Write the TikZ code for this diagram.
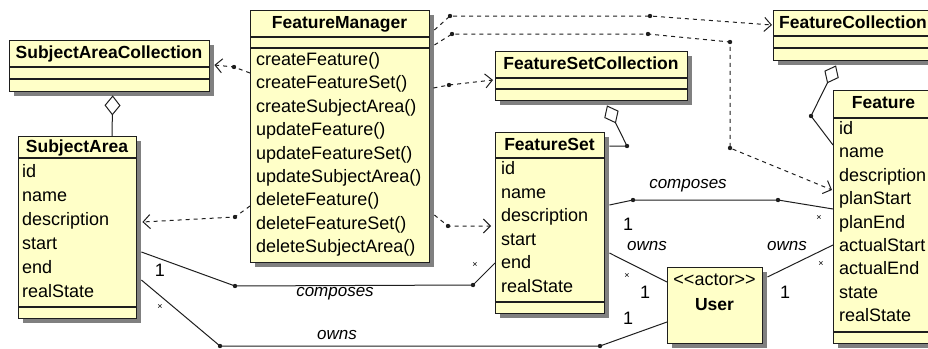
\documentclass[tikz,border=0pt]{standalone}
\usepackage{fontspec}
\setmainfont{Liberation Sans}
\usetikzlibrary{arrows.meta,shadows,calc}
\definecolor{umlfill}{RGB}{255,255,200}
\definecolor{umlline}{RGB}{30,30,30}
\definecolor{umlshadow}{RGB}{128,128,128}
\tikzset{
 cls/.style={draw=umlline, line width=1.4pt, fill=umlfill, rectangle, inner sep=0pt, anchor=north west,
   drop shadow={shadow xshift=4pt, shadow yshift=-4pt, fill=umlshadow, opacity=1}},
 divider/.style={draw=umlline, line width=1.2pt},
 title/.style={font=\fontsize{17.5}{20}\selectfont\bfseries, inner sep=0pt, text height=13pt, text depth=4pt},
 member/.style={font=\fontsize{18}{20}\selectfont, inner sep=0pt, anchor=west, text height=13pt, text depth=4pt},
 stereo/.style={font=\fontsize{18}{20}\selectfont, inner sep=0pt, text height=13pt, text depth=4pt},
 role/.style={font=\fontsize{17}{20}\selectfont\itshape, inner sep=0pt},
 mult/.style={font=\fontsize{18}{20}\selectfont, inner sep=0pt},
 many/.style={font=\fontsize{9}{10}\selectfont, inner sep=0pt},
 dep/.style={draw=umlline, line width=1pt, dash pattern=on 4pt off 4pt, -{Straight Barb[length=7pt,width=14pt]}},
 assoc/.style={draw=umlline, line width=1pt},
 agg/.style={draw=umlline, line width=1pt, {Diamond[open,fill=white,length=20pt,width=16pt]}-},
}
\newcommand\benddot[1]{\fill[umlline] (#1) circle (2.2pt);}
\begin{document}
\begin{tikzpicture}[x=1pt,y=-1pt]
\useasboundingbox (0,0) rectangle (928,348);

% ---------- SubjectAreaCollection
\node[cls, minimum width=200pt, minimum height=51pt] (sac) at (9,40) {};
\draw[divider] ([yshift=-27pt]sac.north west) -- ([yshift=-27pt]sac.north east);
\draw[divider] ([yshift=-39pt]sac.north west) -- ([yshift=-39pt]sac.north east);
\node[title] (sac-t) at (109,54) {SubjectAreaCollection};

% ---------- SubjectArea
\node[cls, minimum width=118pt, minimum height=182pt] (sa) at (18,136) {};
\draw[divider] ([yshift=-22pt]sa.north west) -- ([yshift=-22pt]sa.north east);
\draw[divider] ([yshift=-171pt]sa.north west) -- ([yshift=-171pt]sa.north east);
\node[title] (sa-t) at (77,148) {SubjectArea};
\foreach \t [count=\i] in {id,name,description,start,end,realState}
  \node[member] (sa-\i) at (22,{173+24*(\i-1)}) {\t};

% ---------- FeatureManager
\node[cls, minimum width=179pt, minimum height=252pt] (fm) at (250,10) {};
\draw[divider] ([yshift=-27pt]fm.north west) -- ([yshift=-27pt]fm.north east);
\draw[divider] ([yshift=-38pt]fm.north west) -- ([yshift=-38pt]fm.north east);
\node[title] (fm-t) at (339.5,24) {FeatureManager};
\foreach \t [count=\i] in {createFeature(),createFeatureSet(),createSubjectArea(),updateFeature(),updateFeatureSet(),updateSubjectArea(),deleteFeature(),deleteFeatureSet(),deleteSubjectArea()}
  \node[member] (fm-\i) at (256,{61+23.4*(\i-1)}) {\t};

% ---------- FeatureSetCollection
\node[cls, minimum width=192pt, minimum height=49pt] (fsc) at (495,51) {};
\draw[divider] ([yshift=-27pt]fsc.north west) -- ([yshift=-27pt]fsc.north east);
\draw[divider] ([yshift=-38pt]fsc.north west) -- ([yshift=-38pt]fsc.north east);
\node[title] (fsc-t) at (591,65) {FeatureSetCollection};

% ---------- FeatureSet
\node[cls, minimum width=109pt, minimum height=181pt] (fs) at (495,132) {};
\draw[divider] ([yshift=-26pt]fs.north west) -- ([yshift=-26pt]fs.north east);
\draw[divider] ([yshift=-170pt]fs.north west) -- ([yshift=-170pt]fs.north east);
\node[title] (fs-t) at (549.5,146) {FeatureSet};
\foreach \t [count=\i] in {id,name,description,start,end,realState}
  \node[member] (fs-\i) at (501,{170+23.6*(\i-1)}) {\t};

% ---------- FeatureCollection
\node[cls, minimum width=160pt, minimum height=50pt] (fc) at (773,10) {};
\draw[divider] ([yshift=-26pt]fc.north west) -- ([yshift=-26pt]fc.north east);
\draw[divider] ([yshift=-38pt]fc.north west) -- ([yshift=-38pt]fc.north east);
\node[title] (fc-t) at (853,24) {FeatureCollection};

% ---------- Feature
\node[cls, minimum width=101pt, minimum height=253pt] (feat) at (833,90) {};
\draw[divider] ([yshift=-28pt]feat.north west) -- ([yshift=-28pt]feat.north east);
\draw[divider] ([yshift=-242pt]feat.north west) -- ([yshift=-242pt]feat.north east);
\node[title] (feat-t) at (883.5,104) {Feature};
\foreach \t [count=\i] in {id,name,description,planStart,planEnd,actualStart,actualEnd,state,realState}
  \node[member] (feat-\i) at (839,{130+23.375*(\i-1)}) {\t};

% ---------- User
\node[cls, minimum width=95pt, minimum height=76pt] (user) at (667,267) {};
\node[stereo] (user-s) at (714.5,281) {<{}<actor>{}>};
\node[title] (user-t) at (714.5,306) {User};

% ---------- bend points
\coordinate (d1) at (234,67);
\coordinate (d2) at (235,217);
\coordinate (d3) at (449,85);
\coordinate (d4) at (448,226);
\coordinate (d5) at (450,16);
\coordinate (d6) at (650,16);
\coordinate (d7) at (452,34);
\coordinate (d8) at (648,34);
\coordinate (d9) at (730,42);
\coordinate (d10) at (730,148);
\coordinate (d11) at (235,286);
\coordinate (d12) at (473,285);
\coordinate (d13) at (220,346);
\coordinate (d14) at (600,346);
\coordinate (d15) at (633,200);
\coordinate (d16) at (778,200);
\coordinate (d17) at (627,146);
\coordinate (d18) at (811,116);

% ---------- dependencies
\draw[dep] ([yshift=-63pt]fm.north west) -- (d1) -- ([shift={(4pt,-25pt)}]sac.north east);
\draw[dep] ([yshift=-196pt]fm.north west) -- (d2) -- ([shift={(5pt,-86pt)}]sa.north east);
\draw[dep] ([shift={(3pt,-78pt)}]fm.north east) -- (d3) -- ([shift={(-2pt,-29pt)}]fsc.north west);
\draw[dep] ([shift={(4pt,-205pt)}]fm.north east) -- (d4) -- ([shift={(-4pt,-94pt)}]fs.north west);
\draw[dep] ([shift={(4pt,-20pt)}]fm.north east) -- (d5) -- (d6) -- ([shift={(-1pt,-15pt)}]fc.north west);
\draw[dep] ([shift={(4pt,-35pt)}]fm.north east) -- (d7) -- (d8) -- (d9) -- (d10) -- ([shift={(-1pt,-100pt)}]feat.north west);

% ---------- associations
\draw[assoc] ([shift={(4pt,-116pt)}]sa.north east) -- (d11) -- (d12) -- ([yshift=-131pt]fs.north west);
\draw[assoc] ([shift={(4pt,-144pt)}]sa.north east) -- (d13) -- (d14) -- ([yshift=-55pt]user.north west);
\draw[assoc] ([shift={(4pt,-73pt)}]fs.north east) -- (d15) -- (d16) -- ([yshift=-119pt]feat.north west);
\draw[assoc] ([shift={(4pt,-121pt)}]fs.north east) -- ([yshift=-15pt]user.north west);
\draw[assoc] ([shift={(4pt,-10pt)}]user.north east) -- ([yshift=-155pt]feat.north west);

% ---------- aggregations
\draw[agg] ([shift={(3pt,-3pt)}]sac.south) -- ([xshift=94pt]sa.north west);
\draw[agg] ([shift={(112pt,-4pt)}]fsc.south west) -- (d17) -- ([shift={(4pt,-14pt)}]fs.north east);
\draw[agg] ([shift={(63pt,-4pt)}]fc.south west) -- (d18) -- ([yshift=-55pt]feat.north west);

% ---------- dots
\foreach \d in {d1,d2,d3,d4,d5,d6,d7,d8,d9,d10,d11,d12,d13,d14,d15,d16,d17,d18} {\benddot{\d}}

% ---------- labels
\node[role] (l1) at (335,294) {composes};
\node[role] (l2) at (337,335) {owns};
\node[role] (l3) at (688,186) {composes};
\node[role] (l4) at (647,246) {owns};
\node[role] (l5) at (787,246) {owns};
\node[mult] (m1) at (160,270) {1};
\node[mult] (m2) at (628,318) {1};
\node[mult] (m3) at (628,224) {1};
\node[mult] (m4) at (645,292) {1};
\node[mult] (m5) at (785,292) {1};
\node[many] (s1) at (475,265) {×};
\node[many] (s2) at (160,307) {×};
\node[many] (s3) at (819,218) {×};
\node[many] (s4) at (627,276) {×};
\node[many] (s5) at (821,264) {×};
\end{tikzpicture}
\end{document}
